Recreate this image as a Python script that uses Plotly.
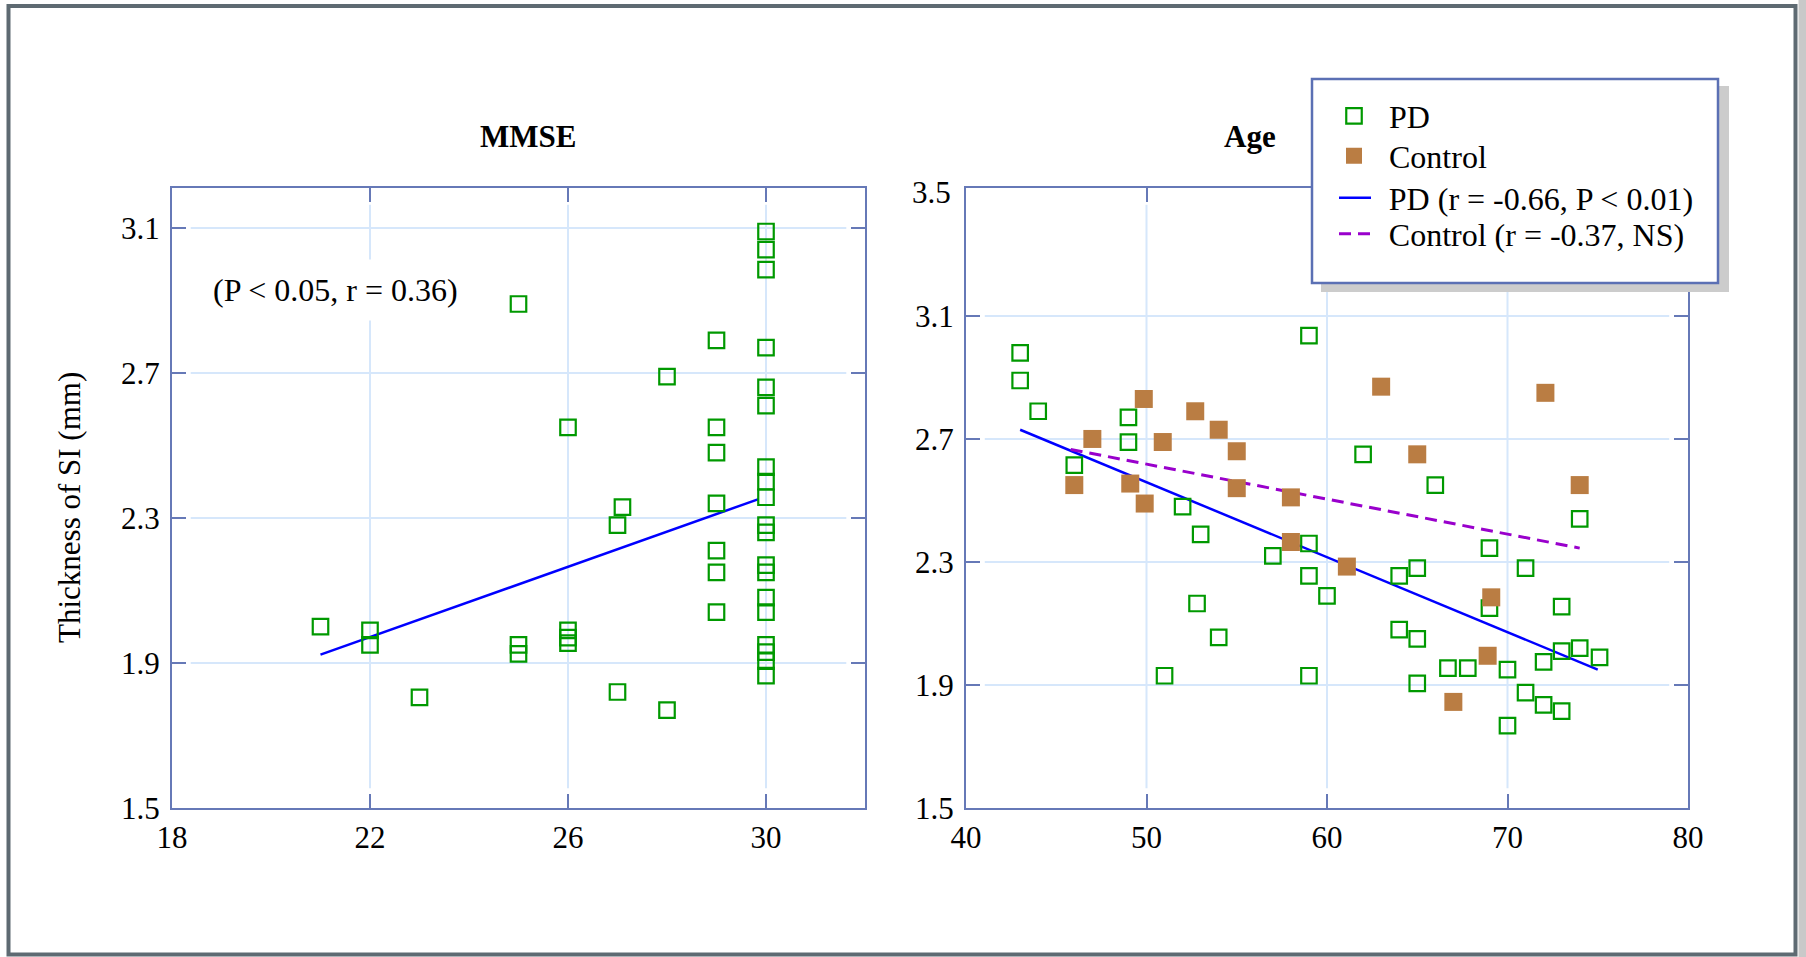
import plotly.graph_objects as go

# ---------------- data ----------------
mmse_pd_x = [21, 22, 22, 23, 25, 25, 25, 26, 26, 26, 26, 27.1, 27, 27, 28, 28,
             29, 29, 29, 29, 29, 29, 29,
             30, 30, 30, 30, 30, 30, 30, 30, 30, 30, 30, 30, 30, 30, 30, 30, 30, 30, 30]
mmse_pd_y = [2.00, 1.99, 1.95, 1.805, 2.89, 1.95, 1.925, 2.55, 1.99, 1.97, 1.955, 2.33, 2.28, 1.82, 2.69, 1.77,
             2.79, 2.55, 2.48, 2.34, 2.21, 2.15, 2.04,
             3.09, 3.04, 2.985, 2.77, 2.66, 2.61, 2.44, 2.40, 2.357, 2.28, 2.26, 2.17, 2.15, 2.08, 2.04,
             1.95, 1.93, 1.905, 1.865]
mmse_fit_x = [21, 29.85]
mmse_fit_y = [1.923, 2.352]

age_pd_x = [43, 43, 44, 49, 49, 46, 59, 52, 53, 59,
            57, 62, 66, 74, 69, 65, 71, 64, 60, 69,
            73, 64, 65, 66.7, 67.8, 70, 72, 73, 74, 75.1,
            65, 71, 72, 73, 70, 59, 52.8, 54, 51, 59]
age_pd_y = [2.98, 2.89, 2.79, 2.77, 2.69, 2.615, 3.036, 2.48, 2.39, 2.36,
            2.32, 2.65, 2.55, 2.44, 2.345, 2.28, 2.28, 2.255, 2.19, 2.15,
            2.155, 2.08, 2.05, 1.955, 1.955, 1.95, 1.975, 2.01, 2.02, 1.99,
            1.905, 1.875, 1.835, 1.815, 1.768, 2.255, 2.165, 2.055, 1.93, 1.93]
age_ctl_x = [49.85, 52.7, 54, 55, 47, 50.9, 46, 49.1, 49.9, 55,
             58, 58, 63, 72.1, 65, 74, 61.1, 69.1, 68.9, 67]
age_ctl_y = [2.83, 2.79, 2.73, 2.66, 2.70, 2.69, 2.55, 2.555, 2.49, 2.54,
             2.51, 2.365, 2.87, 2.85, 2.65, 2.55, 2.285, 2.185, 1.995, 1.845]
age_pd_fit_x = [43, 75]
age_pd_fit_y = [2.73, 1.95]
age_ctl_fit_x = [45.8, 74]
age_ctl_fit_y = [2.666, 2.345]

mmse_xticks = [18, 22, 26, 30]
age_xticks = [40, 50, 60, 70, 80]
thick_ticks_left = [1.5, 1.9, 2.3, 2.7, 3.1]
thick_ticks_right = [1.5, 1.9, 2.3, 2.7, 3.1]
top_label_right = 3.5

legend_names = ["PD", "Control", "PD (r = -0.66, P < 0.01)", "Control (r = -0.37, NS)"]
titles = ["MMSE", "Age"]
y_title = "Thickness of SI (mm)"
note = "(P < 0.05, r = 0.36)"

# ---------------- styling ----------------
W, H = 1806, 957
FONT = "Liberation Serif, Times New Roman, serif"
FS = 31
GREEN = "#009900"
BROWN = "#BA7D43"
BLUE = "#0000FF"
PURPLE = "#9900CC"
AXC = "#6679B7"
GRIDC = "#D6E7FB"
FRAMEC = "#5E6A72"
PAD = "\u2009\u2009"  # small gap between short line symbol and its label

def px(x):
    return x / W

def py(y):
    return 1 - y / H

L_dom = [px(172), px(865)]
R_dom = [px(966), px(1688)]
Y_dom = [py(808), py(188)]
legend_rows = [116, 156, 198, 234]

fig = go.Figure()

# fit lines (drawn beneath markers)
fig.add_trace(go.Scatter(x=mmse_fit_x, y=mmse_fit_y, mode="lines", xaxis="x", yaxis="y",
                         line=dict(color=BLUE, width=2.5), showlegend=False, hoverinfo="skip"))
fig.add_trace(go.Scatter(x=age_pd_fit_x, y=age_pd_fit_y, mode="lines", xaxis="x2", yaxis="y2",
                         name=PAD + legend_names[2], legend="legend3",
                         line=dict(color=BLUE, width=2.5)))
fig.add_trace(go.Scatter(x=age_ctl_fit_x, y=age_ctl_fit_y, mode="lines", xaxis="x2", yaxis="y2",
                         name=PAD + legend_names[3], legend="legend4",
                         line=dict(color=PURPLE, width=3, dash="12px,7px")))

# markers
pd_marker = dict(symbol="square-open", size=15.5, color=GREEN, line=dict(color=GREEN, width=2.2))
fig.add_trace(go.Scatter(x=mmse_pd_x, y=mmse_pd_y, mode="markers", xaxis="x", yaxis="y",
                         marker=pd_marker, showlegend=False))
fig.add_trace(go.Scatter(x=age_pd_x, y=age_pd_y, mode="markers", xaxis="x2", yaxis="y2",
                         name=legend_names[0], legend="legend", marker=pd_marker))
fig.add_trace(go.Scatter(x=age_ctl_x, y=age_ctl_y, mode="markers", xaxis="x2", yaxis="y2",
                         name=legend_names[1], legend="legend2",
                         marker=dict(symbol="square", size=18, color=BROWN, line=dict(width=0))))

axis_common = dict(showgrid=False, zeroline=False, showline=True, mirror="ticks", automargin=False,
                   linecolor=AXC, linewidth=2, ticks="inside", ticklen=14, tickwidth=2,
                   tickcolor=AXC, tickfont=dict(family=FONT, size=FS, color="black"))

def legend_at(row, left, iw):
    return dict(x=px(left), y=py(row), xanchor="left", yanchor="middle",
                bgcolor="rgba(0,0,0,0)", borderwidth=0, itemwidth=iw,
                font=dict(family=FONT, size=32, color="black"))

fig.update_layout(
    template="none",
    width=W, height=H,
    margin=dict(l=0, r=0, t=0, b=0, pad=0, autoexpand=False),
    paper_bgcolor="white", plot_bgcolor="white",
    font=dict(family=FONT, size=FS, color="black"),
    xaxis=dict(domain=L_dom, range=[18, 32], anchor="y", tickvals=mmse_xticks,
               ticklabelstandoff=1, **axis_common),
    yaxis=dict(domain=Y_dom, range=[1.5, 3.21], anchor="x", tickvals=thick_ticks_left,
               ticklabelstandoff=4, **axis_common),
    xaxis2=dict(domain=R_dom, range=[40, 80], anchor="y2", tickvals=age_xticks,
                ticklabelstandoff=1, **axis_common),
    yaxis2=dict(domain=Y_dom, range=[1.5, 3.516], anchor="x2", tickvals=thick_ticks_right,
                ticklabelstandoff=4, **axis_common),
    legend=legend_at(legend_rows[0], 1319, 60),
    legend2=legend_at(legend_rows[1], 1319, 60),
    legend3=legend_at(legend_rows[2], 1334, 32),
    legend4=legend_at(legend_rows[3], 1334, 32),
    showlegend=True,
    hovermode="closest",
)

shapes = []
# grid lines (stop short of the frame, as in the reference)
for v in mmse_xticks:
    if 18 < v < 32:
        shapes.append(dict(type="line", xref="x", yref="y domain", x0=v, x1=v, y0=0.032, y1=0.973,
                           line=dict(color=GRIDC, width=2), layer="below"))
for v in thick_ticks_left:
    if 1.5 < v < 3.21:
        shapes.append(dict(type="line", xref="x domain", yref="y", x0=0.027, x1=0.973, y0=v, y1=v,
                           line=dict(color=GRIDC, width=2), layer="below"))
for v in age_xticks:
    if 40 < v < 80:
        shapes.append(dict(type="line", xref="x2", yref="y2 domain", x0=v, x1=v, y0=0.032, y1=0.973,
                           line=dict(color=GRIDC, width=2), layer="below"))
for v in thick_ticks_right:
    if 1.5 < v < 3.5:
        shapes.append(dict(type="line", xref="x2 domain", yref="y2", x0=0.026, x1=0.974, y0=v, y1=v,
                           line=dict(color=GRIDC, width=2), layer="below"))

# legend box with drop shadow
shapes.append(dict(type="rect", xref="paper", yref="paper", x0=px(1321), x1=px(1729), y0=py(292), y1=py(86),
                   fillcolor="#CCCCCC", line=dict(width=0), layer="above"))
shapes.append(dict(type="rect", xref="paper", yref="paper", x0=px(1312), x1=px(1718), y0=py(283), y1=py(79),
                   fillcolor="white", line=dict(color="#5B70B4", width=2.5), layer="above"))
# outer frame and right grey strip
shapes.append(dict(type="rect", xref="paper", yref="paper", x0=px(1798.5), x1=1, y0=0, y1=1,
                   fillcolor="#C9C9C9", line=dict(width=0), layer="above"))
shapes.append(dict(type="rect", xref="paper", yref="paper", x0=px(8.5), x1=px(1795.5), y0=py(954.5), y1=py(6),
                   fillcolor="rgba(0,0,0,0)", line=dict(color=FRAMEC, width=4), layer="above"))
fig.update_layout(shapes=shapes)

annotations = [
    dict(text="<b>%s</b>" % titles[0], xref="paper", yref="paper", x=px(528), y=py(136),
         showarrow=False, font=dict(family=FONT, size=31, color="black"), xanchor="center", yanchor="middle"),
    dict(text="<b>%s</b>" % titles[1], xref="paper", yref="paper", x=px(1250), y=py(136),
         showarrow=False, font=dict(family=FONT, size=31, color="black"), xanchor="center", yanchor="middle"),
    dict(text=y_title, xref="paper", yref="paper", x=px(70), y=py(508), textangle=-90,
         showarrow=False, font=dict(family=FONT, size=31, color="black"), xanchor="center", yanchor="middle"),
    dict(text=note, xref="x", yref="y", x=21.3, y=2.928, showarrow=False,
         bgcolor="white", borderpad=12, font=dict(family=FONT, size=32, color="black"),
         xanchor="center", yanchor="middle"),
    dict(text=str(top_label_right), xref="x2 domain", yref="y2", x=0, y=top_label_right, xanchor="right",
         xshift=-13, yanchor="middle", showarrow=False, font=dict(family=FONT, size=FS, color="black")),
]
fig.update_layout(annotations=annotations)

fig.write_html("out.html", config={"displayModeBar": False},
               post_script="document.body.style.margin='0';document.body.style.overflow='hidden';")
